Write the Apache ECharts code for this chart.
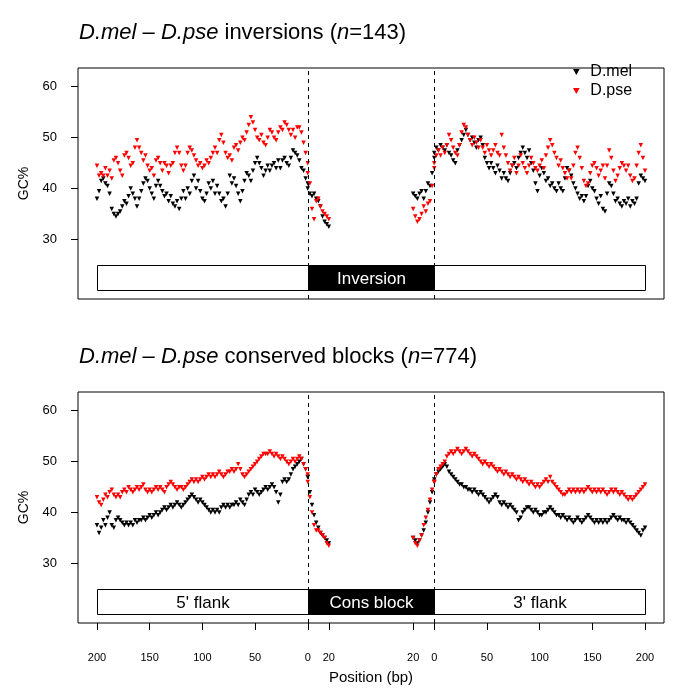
<!DOCTYPE html>
<html><head><meta charset="utf-8">
<script src="https://cdn.jsdelivr.net/npm/echarts@6/dist/echarts.min.js"></script>
<style>html,body{margin:0;padding:0;background:#fff}#c{width:685px;height:694px}</style>
</head><body><div id="c"></div>
<script>
// ---------------- positions (bp) ----------------
const flank5Pos = []; for (let p = 200; p >= 0; p -= 2) flank5Pos.push(p);
const flank3Pos = []; for (let p = 0; p <= 200; p += 2) flank3Pos.push(p);
const blockStartPos = [0,2,4,6,8,10,12,14,16,18,20];
const blockEndPos = [20,18,16,14,12,10,8,6,4,2,0];

// ---------------- top panel: inversions ----------------
const topMel5 = [38,39.5,41.5,42,41,40.5,39,36,35,34.5,
35,35.5,36.5,37.5,37,38.5,40,39,38,36.5,
38,39.5,41,42,41.5,40,39,38,40.5,41.5,
40.5,39.5,38.5,39,37.5,38.5,37,36.5,37.5,36,
38,39.5,38,40,39,41.5,42.5,40,41.5,39.5,
38,37.5,39,41,40,41.5,39,40.5,39,37.5,
38,36.5,39,42.5,41,42,40.5,39,37.5,39.5,
41.5,43,42.5,41.5,43.5,45,46,45,44,42.5,
43.5,44.5,43.5,44.5,45,44,45.5,44,45.5,46,
45,44.5,46,47.5,47,46.5,45.5,44,43.5,42,
41];
const topPse5 = [44.5,42.5,43,42.5,44,42.5,43.5,42,45.5,46,
45,43.5,42.5,46.5,47,46,44.5,45,48,49.5,
48,47,45.5,46.5,44.5,43.5,44,42.5,45.5,46,
45,43.5,45,44.5,43,44.5,45,47,48,47,
44.5,43.5,44.5,47,48,47.5,46.5,45.5,44.5,45,
44,44.5,45.5,45,46,47,48,47,49.5,50.5,
49,47,46,46.5,45.5,48,48.5,47.5,49,50,
49.5,51,52.5,54,53,51.5,50,49.5,50.5,49,
48.5,50,51.5,51,50,49.5,51,52,51.5,53,
52.5,51.5,50.5,51.5,50,52,52,51,49,47,
45];
const topMelBS = [40,39,38.5,39,38,37.5,36.5,34.5,33.5,33,32.5];
const topPseBS = [43,41,36,34,37.5,38,36.5,35.5,35,34.5,34];
const topMelBE = [39,38.5,38,39,39.5,38,39.5,41,40.5,43,46];
const topPseBE = [36,34.5,33.5,34,35,36.5,35.5,37,37.5,40.5,44];
const topMel3 = [47,48,47.5,48.5,48,47.5,48.5,47,46.5,45.5,
45,47.5,48.5,49.5,50.5,51.5,50.5,49.5,50,49,
48,49.5,50,48.5,46,45,44,45,44,43,
44.5,43.5,42,43,42,41.5,43,44.5,45,44,
46,47,48,47,46,47.5,45,43.5,41,39.5,
42.5,44,43,41.5,42,40.5,41,40,39.5,41,
40,39.5,42,44,43.5,42.5,41,40,39,38,
38.5,37.5,38.5,40.5,41.5,40,39.5,38,37,38.5,
36,35.5,39,41,40.5,39,37.5,38,37,36.5,
37.5,37,38,36.5,37.5,37,38,41,42.5,42,
41.5];
const topPse3 = [45,46.5,47.5,46.5,48,47,48.5,50.5,49.5,48,
47,46.5,48.5,51,52.5,52,50.5,49.5,48.5,50,
49,48,49.5,48,47,48.5,47.5,46.5,47.5,48.5,
47,46.5,50.5,48,46.5,45,43.5,44.5,46,43,
44.5,46.5,45,44,43,44.5,46,45,44,43.5,
44.5,45.5,44,46.5,48,49.5,48.5,47,46,44.5,
45.5,44,43,42,43.5,42,44.5,47,48,46,
44,41.5,40.5,41,43,44.5,45,44,42.5,43.5,
44.5,42,44.5,47.5,46,43.5,41.5,42.5,44,45,
44.5,43.5,44.5,42.5,41.5,42,44.5,47,48.5,46,
43.5];

// ---------------- bottom panel: conserved blocks ----------------
const botMel5 = [37.5,36,37,38.5,37.5,39,40,37.5,37,38.5,
39,38.5,38,37.5,38,37.5,38,37.5,38.5,38,
38.5,38.5,39,38.5,39,39.5,39,39.5,40,39.5,
40,40.5,41,40.5,41,41.5,41,41.5,42,41.5,
41,41.5,42,42.5,43,43.5,43,42.5,42,42.5,
42,41.5,41,40.5,40,40.5,40,40.5,40,41,
41.5,41,41.5,41,41.5,41.5,42,41.5,42.5,42,
41.5,42.5,43.5,44,43.5,44.5,44,43.5,44,44.5,
45,44.5,45,45.5,45,44,42,43.5,46,46.5,
46,46.5,47.5,48.5,49,49.5,50,50.5,49.5,48.5,
47];
const botPse5 = [43,42,41.5,42.5,43.5,43,44,44.5,43.5,43,
43.5,43,44,44.5,44,45,44.5,44,44.5,45,
44.5,45,45.5,44.5,44,44.5,44,44.5,45,44.5,
45,44.5,44,45,45.5,46,45.5,45,44.5,45,
45,44.5,45,45.5,46,46.5,46,46.5,46,46.5,
47,46.5,47,47.5,47,47.5,47,47.5,48,47.5,
47,47.5,48,48,48.5,48,48.5,49.5,48.5,47.5,
47,47.5,48,48.5,49,49.5,50,50.5,51,51.5,
51.5,51.5,52,51.5,51,51.5,51,50.5,51,50.5,
50,49.5,50,50.5,50,50.5,51,50.5,49.5,48.5,
47.5];
const botMelBS = [47,44,41.5,39.5,38,37,36,35.5,35,34.5,34];
const botPseBS = [46,43,40,37.5,36.5,36.5,36,35.5,35,34,33.5];
const botMelBE = [35,34.5,34,34.5,35.5,36.5,38,40,42,44,46];
const botPseBE = [35,34,33.5,34.5,35.5,37.5,39,40.5,42.5,44.5,46];
const botMel3 = [46.5,47.5,48,48.5,49,49.5,49,48,47.5,47,
46.5,46,45.5,45.5,45,45,44.5,44.5,44,44.5,
44,43.5,44,43.5,43,42.5,42,42.5,43,43.5,
43,42,41.5,42,41.5,41,41.5,41,40.5,40,
38.5,39,40,40.5,41,41,40.5,40,40.5,40,
39.5,39.5,40,40,40.5,41,40.5,40,39.5,39.5,
39,39.5,39,38.5,39,38.5,38,38.5,39,38.5,
38,38.5,39,39.5,39,38.5,38,38.5,38,38.5,
38,38.5,38,38.5,39,39.5,39,38.5,39,38.5,
38.5,38,38.5,38,37.5,37,36.5,36,35.5,36.5,
37];
const botPse3 = [46,47.5,48.5,49,49.5,50,51,51.5,52,51.5,
52,52.5,52,51.5,52,52.5,52,51.5,51,51.5,
51,50.5,50,49.5,50,49.5,49,49.5,49,48.5,
48,48.5,48,47.5,48,47.5,47,47.5,47,46.5,
47,46.5,46,46.5,46,45.5,46,45.5,45,45.5,
45,45.5,46,46.5,46,47,46,45.5,45,44.5,
44,43.5,43.5,44,44.5,44,44.5,44,44.5,44,
44.5,44,44.5,45,44.5,44,44.5,44,44.5,44,
44.5,44,43.5,44,44.5,44,44.5,44,43.5,44,
43.5,43,42.5,43,42.5,43,43.5,44,44.5,45,
45.5];

// ---------------- axis / annotation definitions ----------------
const GAP = 120;                    // axis units from block start 0 to block end 0
const xTickValues = [-200,-150,-100,-50,0,20,100,120,170,220,270,320];
const xTickLabels = ['200','150','100','50','0','20','20','0','50','100','150','200'];
const yTicks = [30,40,50,60];
const blockSegments = [[-200,0],[0,GAP],[GAP,320]];
const topBlockLabels = ['', 'Inversion', ''];
const botBlockLabels = ["5' flank", 'Cons block', "3' flank"];
const barLow = 20, barHigh = 25;

const FONT = '"Liberation Sans", Arial, Helvetica, sans-serif';
const TRI = 'path://M0,0L10,0L5,9Z';

function buildPoints(v5, vBS, vBE, v3) {
  const pts = [];
  flank5Pos.forEach((p, i) => pts.push([-p, v5[i]]));
  blockStartPos.forEach((p, i) => pts.push([p, vBS[i]]));
  blockEndPos.forEach((p, i) => pts.push([GAP - p, vBE[i]]));
  flank3Pos.forEach((p, i) => pts.push([GAP + p, v3[i]]));
  return pts;
}

function rectSeries(idx, labels) {
  return {
    type: 'custom', xAxisIndex: idx, yAxisIndex: idx, silent: true, z: 5,
    data: blockSegments.map((s, i) => [s[0], s[1], i]),
    renderItem: function (params, api) {
      const i = api.value(2);
      const a = api.coord([api.value(0), barHigh]);
      const b = api.coord([api.value(1), barLow]);
      const x0 = Math.round(a[0]) + 0.5, x1 = Math.round(b[0]) + 0.5;
      const y0 = Math.round(a[1]) + 0.5, y1 = Math.round(b[1]) + 0.5;
      return {
        type: 'group',
        children: [
          { type: 'rect', shape: { x: x0, y: y0, width: x1 - x0, height: y1 - y0 },
            style: { fill: i === 1 ? '#000' : '#fff', stroke: '#000', lineWidth: 1 } },
          { type: 'text', style: { text: labels[i], x: (x0 + x1) / 2, y: (y0 + y1) / 2 + 1,
            align: 'center', verticalAlign: 'middle', fill: i === 1 ? '#fff' : '#000',
            font: '17px ' + FONT } }
        ]
      };
    }
  };
}

function scatter(name, idx, pts, color, withLines) {
  const s = {
    name: name, type: 'scatter', xAxisIndex: idx, yAxisIndex: idx,
    symbol: TRI, symbolSize: [4.5, 4.5], data: pts, silent: true,
    itemStyle: { color: color, opacity: 1 }
  };
  if (withLines) {
    s.markLine = {
      silent: true, symbol: ['none', 'none'], label: { show: false },
      lineStyle: { type: [4, 4], color: '#000', width: 1 },
      data: [{ xAxis: 0 }, { xAxis: GAP }]
    };
  }
  return s;
}

const grids = [
  { left: 78, right: 21, top: 68, height: 231, show: true, borderColor: '#000', borderWidth: 1 },
  { left: 78, right: 21, top: 392, height: 231, show: true, borderColor: '#000', borderWidth: 1 }
];

function xAxis(idx, showLabels) {
  return {
    type: 'value', gridIndex: idx, min: -218, max: 338,
    splitLine: { show: false },
    axisLine: { show: false, onZero: false },
    axisTick: { show: showLabels, customValues: xTickValues, length: 7, lineStyle: { color: '#000' } },
    axisLabel: { show: showLabels, customValues: xTickValues, margin: 29,
      formatter: v => xTickLabels[xTickValues.indexOf(v)],
      color: '#000', fontSize: 11, fontFamily: FONT },
    name: showLabels ? 'Position (bp)' : '', nameLocation: 'middle', nameGap: 47,
    nameTextStyle: { color: '#000', fontSize: 15, fontFamily: FONT }
  };
}
function yAxis(idx) {
  return {
    type: 'value', gridIndex: idx, min: 18.32, max: 63.68,
    splitLine: { show: false },
    axisLine: { show: false, onZero: false },
    axisTick: { show: true, customValues: yTicks, length: 7, lineStyle: { color: '#000' } },
    axisLabel: { customValues: yTicks, margin: 21, color: '#000', fontSize: 13, fontFamily: FONT },
    name: 'GC%', nameLocation: 'middle', nameGap: 47, nameRotate: 90,
    nameTextStyle: { color: '#000', fontSize: 14, fontFamily: FONT }
  };
}

const titleRich = { i: { fontStyle: 'italic', fontSize: 22, color: '#000', fontFamily: FONT } };
const option = {
  animation: false,
  backgroundColor: '#fff',
  title: [
    { text: '{i|D.mel} – {i|D.pse} inversions ({i|n}=143)', left: 74, top: 17,
      textStyle: { fontSize: 22, fontWeight: 'normal', color: '#000', fontFamily: FONT, rich: titleRich } },
    { text: '{i|D.mel} – {i|D.pse} conserved blocks ({i|n}=774)', left: 74, top: 341,
      textStyle: { fontSize: 22, fontWeight: 'normal', color: '#000', fontFamily: FONT, rich: titleRich } }
  ],
  legend: {
    orient: 'vertical', left: 568, top: 59, itemWidth: 18, itemHeight: 6, itemGap: 3,
    textStyle: { fontSize: 16, color: '#000', fontFamily: FONT },
    data: [{ name: 'D.mel', icon: TRI }, { name: 'D.pse', icon: TRI }]
  },
  grid: grids,
  xAxis: [xAxis(0, false), xAxis(1, true)],
  yAxis: [yAxis(0), yAxis(1)],
  series: [
    scatter('D.mel', 0, buildPoints(topMel5, topMelBS, topMelBE, topMel3), '#000', true),
    scatter('D.pse', 0, buildPoints(topPse5, topPseBS, topPseBE, topPse3), '#ff0000', false),
    rectSeries(0, topBlockLabels),
    scatter('D.mel', 1, buildPoints(botMel5, botMelBS, botMelBE, botMel3), '#000', true),
    scatter('D.pse', 1, buildPoints(botPse5, botPseBS, botPseBE, botPse3), '#ff0000', false),
    rectSeries(1, botBlockLabels)
  ]
};
const chart = echarts.init(document.getElementById('c'), null, { renderer: 'canvas' });
chart.setOption(option);
</script>
</body></html>
